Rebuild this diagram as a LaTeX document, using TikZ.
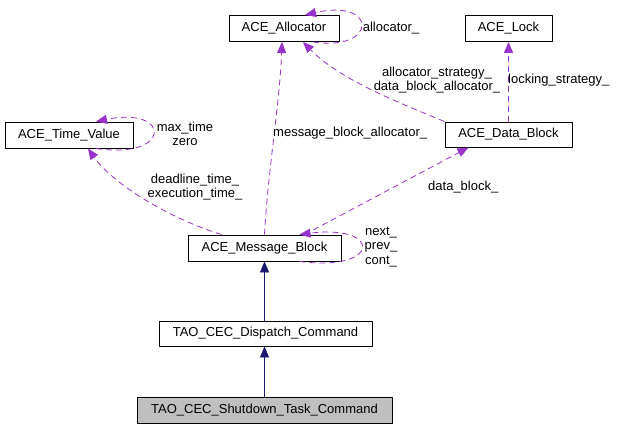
\documentclass[tikz,border=0pt]{standalone}
\usepackage{fontspec}
\setmainfont{Liberation Sans}
\usetikzlibrary{arrows.meta}
\definecolor{edgepurple}{HTML}{9A32CD}
\definecolor{edgenavy}{HTML}{191970}
\begin{document}
\begin{tikzpicture}[x=1pt, y=-1pt, font=\fontsize{13}{14.5}\selectfont, line join=round, >={Triangle[length=11pt,width=9pt]},
	cls/.style={draw, line width=0.9pt, inner sep=0pt, minimum height=26pt},
	member/.style={->, edgepurple, line width=0.8pt, dash pattern=on 6pt off 4pt},
	inherit/.style={->, edgenavy, line width=0.8pt},
	lbl/.style={inner sep=0pt, align=center}]
	\useasboundingbox (0,0) rectangle (617,428);
	% classes
	\node[cls, minimum width=110pt] (alloc) at (284,28.5) {ACE\_Allocator};
	\node[cls, minimum width=87pt] (lock) at (508.5,28.5) {ACE\_Lock};
	\node[cls, minimum width=127pt, minimum height=25pt] (datablk) at (508.5,134.5) {ACE\_Data\_Block};
	\node[cls, minimum width=128pt] (timeval) at (69,135) {ACE\_Time\_Value};
	\node[cls, minimum width=153pt] (msgblk) at (264.5,248) {ACE\_Message\_Block};
	\node[cls, minimum width=213pt, minimum height=25pt] (dispatch) at (265.5,333.5) {TAO\_CEC\_Dispatch\_Command};
	\node[cls, minimum width=255pt, fill={rgb,255:red,191;green,191;blue,191}] (shutdown) at (264.5,410) {TAO\_CEC\_Shutdown\_Task\_Command};
	% inheritance
	\draw[inherit] (dispatch.north -| msgblk.south) -- (msgblk.south);
	\draw[inherit] (shutdown.north -| msgblk.south) -- (dispatch.south -| msgblk.south);
	% members
	\draw[member] ([xshift=29pt]alloc.south) .. controls (378,52) and (378,-2) .. ([xshift=21pt]alloc.north);
	\draw[member] (datablk.north) -- (lock.south);
	\draw[member] (datablk.north west) .. controls (400,103) and (340,80) .. ([xshift=19pt]alloc.south);
	\draw[member] (msgblk.north) .. controls (268,170) and (280,100) .. ([xshift=-2pt]alloc.south);
	\draw[member] ([xshift=40pt]msgblk.north) -- ([xshift=-40pt]datablk.south);
	\draw[member] ([xshift=-43pt]msgblk.north) .. controls (160,215) and (110,180) .. ([xshift=19pt]timeval.south);
	\draw[member] ([xshift=27pt]timeval.south) .. controls (172,160) and (172,106) .. ([xshift=27pt]timeval.north);
	\draw[member] ([xshift=35pt]msgblk.south) .. controls (382,272) and (382,224) .. ([xshift=35pt]msgblk.north);
	% labels
	\node[lbl] (l1) at (391,28) {allocator\_};
	\node[lbl] (l2) at (437,80) {allocator\_strategy\_\\data\_block\_allocator\_};
	\node[lbl, anchor=west] (l3) at (508,80) {locking\_strategy\_};
	\node[lbl, anchor=west] (l4) at (273,133) {message\_block\_allocator\_};
	\node[lbl] (l5) at (185,134) {max\_time\\zero};
	\node[lbl] (l6) at (195,187) {deadline\_time\_\\execution\_time\_};
	\node[lbl, anchor=west] (l7) at (428,187) {data\_block\_};
	\node[lbl] (l8) at (381,247) {next\_\\prev\_\\cont\_};
\end{tikzpicture}
\end{document}
